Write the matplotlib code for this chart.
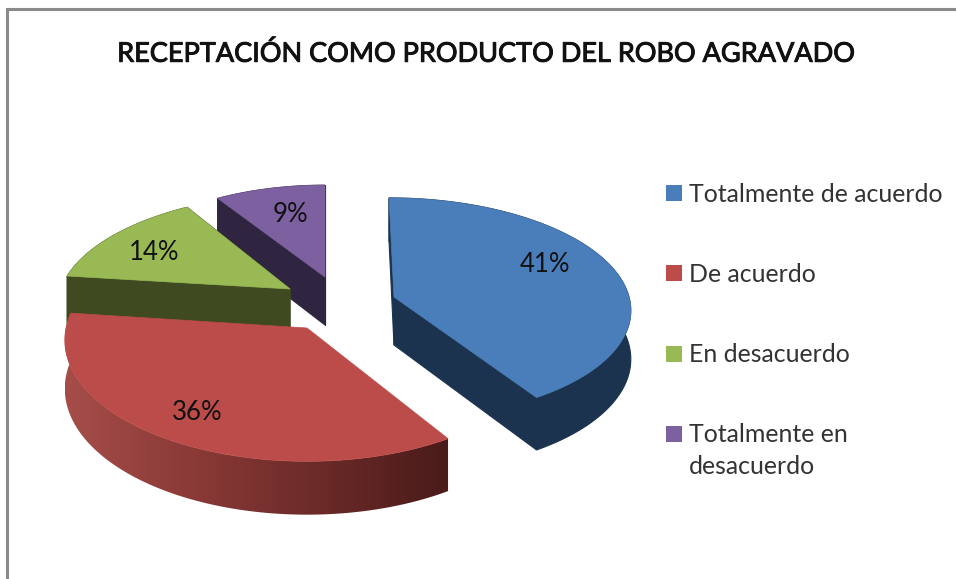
#
#       RECEPTACION COMO PRODUCTO DEL ROBO AGRAVADO - exploded 3D pie
#
#--------------------------------------------------------60

import numpy as np
from matplotlib import pyplot as plt
from matplotlib import patheffects
from matplotlib.colors import LinearSegmentedColormap
from matplotlib.patches import Polygon, Rectangle

plt.rcParams['font.family'] = ['Lato', 'DejaVu Sans']

title = 'RECEPTACIÓN COMO PRODUCTO DEL ROBO AGRAVADO'
categories = ['Totalmente de acuerdo', 'De acuerdo', 'En desacuerdo',
              'Totalmente en\ndesacuerdo']
shares = [41, 36, 14, 9]

top_colors = ['#4a7ebb', '#bc4c49', '#98b954', '#7d60a0']
wall_colors = ['#1c334f', None, '#3f4a20', '#2f2540']
red_wall = ['#a64d49', '#8a3a37', '#6a2a28', '#4a1b1a']

# Layout of each exploded slice (pixels): apex, radii and lean
apex_x = [394, 307, 290, 325]
apex_y = [297, 328, 289, 277]
radius_x = [235, 241, 229, 217]
radius_y = [109, 120, 105, 101]
lean = [0.05, 0.0, -0.125, 0.0]
label_x = [545, 197, 154, 290]
label_y = [265, 412, 252, 214]
legend_y = [193, 273, 354, 434]

depth = 48.0
persp = 0.10

##############################################################################80

def rim(i, theta):
    """ Screen position of angles theta (clockwise from 12h) on slice i """
    u = np.sin(theta)
    v = -np.cos(theta)
    s = 1.0/(1.0 - persp*v)
    y = radius_y[i]*v*s
    x = radius_x[i]*u*s + lean[i]*y
    return apex_x[i]+x, apex_y[i]+y, depth*s

def strip(x, y, d):
    """ Wall polygon hanging below the line x, y """
    return np.column_stack([np.r_[x, x[::-1]], np.r_[y, (y+d)[::-1]]])

#-----------------------------------------------------------------------------80

fig = plt.figure(figsize=(9.56, 5.79), dpi=100)
ax = fig.add_axes([0, 0, 1, 1])
ax.set_xlim(0, 956)
ax.set_ylim(579, 0)
ax.axis('off')

# Chart frame
ax.plot([7, 7, 956], [579, 9, 9], color='#8a8a8a', lw=2.2,
        solid_joinstyle='miter')

edges = np.cumsum([0] + shares)/np.sum(shares)*2*np.pi

# Drawing order: back slices first
order = [3, 2, 0, 1]
for i in order:
    th = np.linspace(edges[i], edges[i+1], 120)
    x, y, d = rim(i, th)
    zorder = 5 + order.index(i)

    if wall_colors[i]:
        # Cut faces
        for j in [0, -1]:
            fx = np.array([apex_x[i], x[j]])
            fy = np.array([apex_y[i], y[j]])
            fd = np.array([depth, d[j]])
            ax.add_patch(Polygon(strip(fx, fy, fd), fc=wall_colors[i],
                                 ec=wall_colors[i], lw=0.8, zorder=zorder))
        # Outer wall
        ax.add_patch(Polygon(strip(x, y, d), fc=wall_colors[i],
                             ec=wall_colors[i], lw=0.8, zorder=zorder))
    else:
        # Red wall has the left to right shading, its cut faces stay hidden
        wall = Polygon(strip(x, y, d), fc='none', ec='none', zorder=zorder)
        ax.add_patch(wall)
        cmap = LinearSegmentedColormap.from_list('redwall', red_wall)
        im = ax.imshow(np.linspace(0, 1, 256).reshape(1, -1), cmap=cmap,
                       extent=[x.min(), x.max(), (y+d).max(), y.min()],
                       aspect='auto', zorder=zorder)
        im.set_clip_path(wall)

    # Top face
    ax.add_patch(Polygon(np.column_stack([np.r_[apex_x[i], x],
                                          np.r_[apex_y[i], y]]),
                         fc=top_colors[i], ec=top_colors[i], lw=0.5,
                         zorder=zorder))

    ax.text(label_x[i], label_y[i], '%d%%' % shares[i], fontsize=18.5,
            color='#111111', ha='center', va='center', zorder=20)

ax.set_xlim(0, 956)
ax.set_ylim(579, 0)

# Title, thickened a bit since the font has no medium weight
ax.text(487, 54, title, fontsize=19.5, color='#111111', ha='center',
        va='center', zorder=20,
        path_effects=[patheffects.withStroke(linewidth=0.7,
                                             foreground='#111111')])

# Legend
for i in range(len(categories)):
    ax.add_patch(Rectangle((666, legend_y[i]-8), 16, 16, fc=top_colors[i],
                           ec='none', zorder=20))
    lines = categories[i].split('\n')
    for k in range(len(lines)):
        ax.text(689, legend_y[i]+1+k*32, lines[k], fontsize=17.9,
                color='#333333', ha='left', va='center', zorder=20)

fig.savefig('out.png', dpi=100)
